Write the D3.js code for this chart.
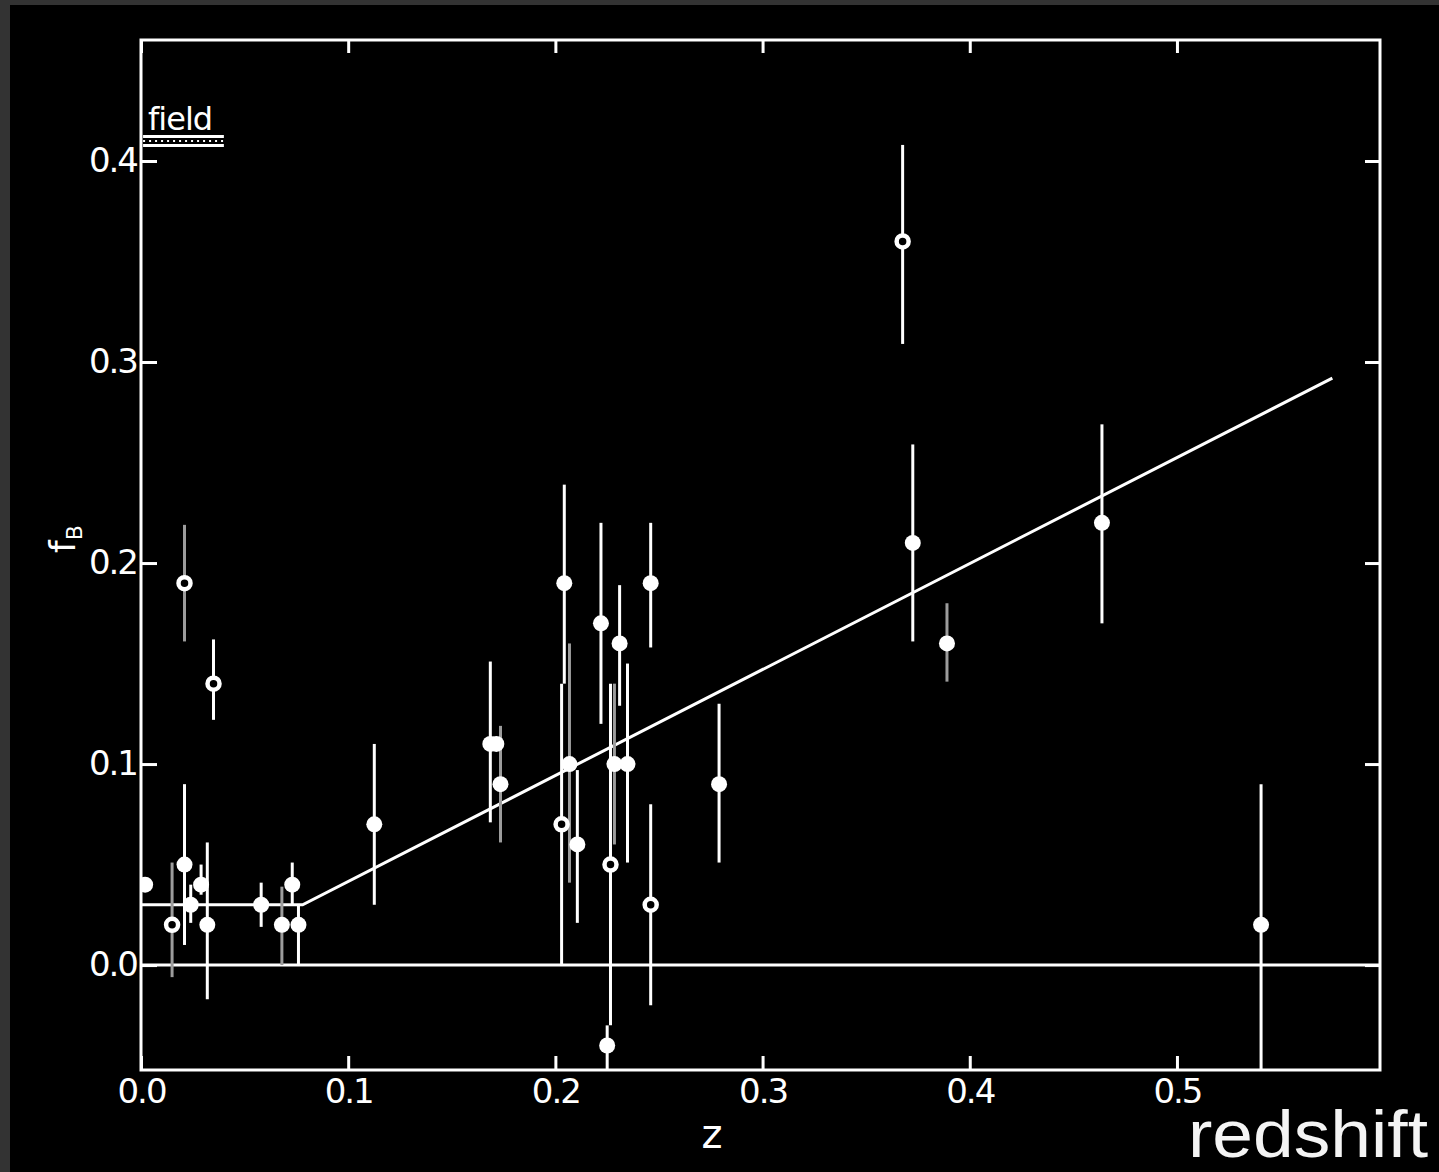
<!DOCTYPE html>
<html>
<head>
<meta charset="utf-8">
<script src="https://cdn.jsdelivr.net/npm/d3@7"></script>
<style>
  html, body { margin: 0; padding: 0; background: #000; }
  svg { display: block; }
</style>
</head>
<body>
<svg id="chart" width="1439" height="1172"></svg>
<script>
// Blue (B) fraction of cluster galaxies versus redshift.
const clusterZ   = [0.002, 0.015, 0.021, 0.024, 0.029, 0.032, 0.021, 0.035, 0.058, 0.068, 0.073, 0.076,
                    0.1126, 0.1686, 0.1715, 0.1735, 0.2043, 0.2030, 0.2068, 0.2106, 0.2220, 0.2266, 0.2250,
                    0.2285, 0.2310, 0.2348, 0.2460, 0.2460, 0.2790, 0.3676, 0.3725, 0.3890, 0.4638, 0.5406];
const blueFrac   = [0.04, 0.02, 0.05, 0.03, 0.04, 0.02, 0.19, 0.14, 0.03, 0.02, 0.04, 0.02,
                    0.07, 0.11, 0.11, 0.09, 0.19, 0.07, 0.10, 0.06, 0.17, 0.05, -0.04,
                    0.10, 0.16, 0.10, 0.19, 0.03, 0.09, 0.36, 0.21, 0.16, 0.22, 0.02];
const fracLower  = [0.04, -0.006, 0.01, 0.021, 0.035, -0.017, 0.161, 0.122, 0.019, 0.0, 0.03, 0.0,
                    0.03, 0.071, 0.11, 0.061, 0.14, 0.0, 0.041, 0.021, 0.12, -0.03, -0.07,
                    0.06, 0.129, 0.051, 0.158, -0.02, 0.051, 0.309, 0.161, 0.141, 0.17, -0.07];
const fracUpper  = [0.04, 0.051, 0.09, 0.04, 0.05, 0.061, 0.219, 0.162, 0.041, 0.039, 0.051, 0.03,
                    0.11, 0.151, 0.11, 0.119, 0.239, 0.14, 0.16, 0.097, 0.22, 0.14, -0.03,
                    0.14, 0.189, 0.15, 0.22, 0.08, 0.13, 0.408, 0.259, 0.18, 0.269, 0.09];
// "open" = open-circle sample, "filled" = filled-circle sample
const markerKind = ["filled", "open", "filled", "filled", "filled", "filled", "open", "open", "filled", "filled", "filled", "filled",
                    "filled", "filled", "filled", "filled", "filled", "open", "filled", "filled", "filled", "open", "filled",
                    "filled", "filled", "filled", "filled", "open", "filled", "open", "filled", "filled", "filled", "filled"];
// source of the error estimate: "A" drawn bright, "B" drawn dim
const errorSource = ["A", "B", "A", "A", "A", "A", "B", "A", "A", "B", "A", "A",
                     "A", "A", "A", "B", "A", "A", "B", "A", "A", "A", "A",
                     "B", "A", "A", "A", "A", "A", "A", "A", "B", "A", "A"];

// Fitted trend: flat at low redshift, then rising
const trendZ = [0.0, 0.078, 0.575];
const trendF = [0.03, 0.03, 0.292];

// Field reference value
const fieldLabel = "field";
const fieldZ = [0.001, 0.04];
const fieldF = 0.41;

const xTickValues = [0.0, 0.1, 0.2, 0.3, 0.4, 0.5];
const xTickLabels = ["0.0", "0.1", "0.2", "0.3", "0.4", "0.5"];
const yTickValues = [0.0, 0.1, 0.2, 0.3, 0.4];
const yTickLabels = ["0.0", "0.1", "0.2", "0.3", "0.4"];

const points = clusterZ.map((z, i) => ({
  z, f: blueFrac[i], lo: fracLower[i], hi: fracUpper[i], kind: markerKind[i], src: errorSource[i]
}));

const svg = d3.select("#chart");
const W = 1439, H = 1172;
const plot = { left: 141, right: 1380, top: 40, bottom: 1070 };

// page frame strips
svg.append("rect").attr("x", 0).attr("y", 0).attr("width", W).attr("height", H).attr("fill", "#000");
svg.append("rect").attr("x", 0).attr("y", 0).attr("width", W).attr("height", 5).attr("fill", "#333");
svg.append("rect").attr("x", 0).attr("y", 0).attr("width", 10).attr("height", H).attr("fill", "#333");

const x = d3.scaleLinear().domain([0, 0.598]).range([plot.left, plot.right]);
const y = d3.scaleLinear().domain([-0.0522, 0.4602]).range([plot.bottom, plot.top]);

const tickFont = "'DejaVu Sans', sans-serif";

svg.append("clipPath").attr("id", "plotClip")
  .append("rect")
  .attr("x", plot.left).attr("y", plot.top)
  .attr("width", plot.right - plot.left).attr("height", plot.bottom - plot.top);

// axes
function styleAxis(g) {
  g.select(".domain").remove();
  g.selectAll(".tick line").attr("stroke", "#fff").attr("stroke-width", 3);
  g.selectAll(".tick text")
    .attr("fill", "#fff")
    .style("font-family", tickFont)
    .style("font-size", "34px")
    .style("letter-spacing", "-2px");
}

svg.append("g")
  .attr("transform", `translate(0,${plot.bottom})`)
  .call(d3.axisBottom(x).tickValues(xTickValues).tickSize(-14).tickPadding(9)
    .tickFormat((d, i) => xTickLabels[i]))
  .call(styleAxis);

svg.append("g")
  .attr("transform", `translate(0,${plot.top})`)
  .call(d3.axisTop(x).tickValues(xTickValues).tickSize(-13).tickFormat(""))
  .call(styleAxis);

svg.append("g")
  .attr("transform", `translate(${plot.left},0)`)
  .call(d3.axisLeft(y).tickValues(yTickValues).tickSize(-16).tickPadding(4)
    .tickFormat((d, i) => yTickLabels[i]))
  .call(styleAxis);

svg.append("g")
  .attr("transform", `translate(${plot.right},0)`)
  .call(d3.axisRight(y).tickValues(yTickValues).tickSize(-15).tickFormat(""))
  .call(styleAxis);

// plot frame
svg.append("rect")
  .attr("x", plot.left).attr("y", plot.top)
  .attr("width", plot.right - plot.left).attr("height", plot.bottom - plot.top)
  .attr("fill", "none").attr("stroke", "#fff").attr("stroke-width", 3);

const body = svg.append("g").attr("clip-path", "url(#plotClip)");

// zero line
body.append("line")
  .attr("x1", x(0)).attr("x2", plot.right)
  .attr("y1", y(0)).attr("y2", y(0))
  .attr("stroke", "#fff").attr("stroke-width", 3);

// trend line
body.append("path")
  .datum(trendZ.map((z, i) => [z, trendF[i]]))
  .attr("d", d3.line().x(d => x(d[0])).y(d => y(d[1])))
  .attr("fill", "none").attr("stroke", "#fff").attr("stroke-width", 3);

// error bars
body.selectAll("line.err")
  .data(points.filter(d => d.hi > d.lo))
  .join("line")
  .attr("class", "err")
  .attr("x1", d => x(d.z)).attr("x2", d => x(d.z))
  .attr("y1", d => y(d.hi)).attr("y2", d => y(d.lo))
  .attr("stroke", d => d.src === "B" ? "#9c9c9c" : "#fff")
  .attr("stroke-width", 3);

// filled markers
body.selectAll("circle.filled")
  .data(points.filter(d => d.kind === "filled"))
  .join("circle")
  .attr("class", "filled")
  .attr("cx", d => x(d.z)).attr("cy", d => y(d.f))
  .attr("r", 8)
  .attr("fill", "#fff");

// open markers
body.selectAll("circle.open")
  .data(points.filter(d => d.kind === "open"))
  .join("circle")
  .attr("class", "open")
  .attr("cx", d => x(d.z)).attr("cy", d => y(d.f))
  .attr("r", 6)
  .attr("fill", "#000")
  .attr("stroke", "#fff")
  .attr("stroke-width", 4.5);

// field legend
svg.append("text")
  .attr("x", x(fieldZ[0]) + 5).attr("y", y(fieldF) - 11)
  .attr("fill", "#fff")
  .style("font-family", tickFont)
  .style("font-size", "32px")
  .style("letter-spacing", "-1px")
  .text(fieldLabel);
[-4.5, 4.5].forEach(off => {
  svg.append("line")
    .attr("x1", x(fieldZ[0])).attr("x2", x(fieldZ[1]))
    .attr("y1", y(fieldF) + off).attr("y2", y(fieldF) + off)
    .attr("stroke", "#fff").attr("stroke-width", 3);
});
svg.append("line")
  .attr("x1", x(fieldZ[0])).attr("x2", x(fieldZ[1]))
  .attr("y1", y(fieldF)).attr("y2", y(fieldF))
  .attr("stroke", "#fff").attr("stroke-width", 2)
  .attr("stroke-dasharray", "2,4");

// axis titles
svg.append("text")
  .attr("x", 712).attr("y", 1148)
  .attr("text-anchor", "middle")
  .attr("fill", "#fff")
  .style("font-family", tickFont)
  .style("font-size", "40px")
  .text("z");

const yTitle = svg.append("text")
  .attr("transform", "translate(75,553) rotate(-90)")
  .attr("fill", "#fff")
  .style("font-family", tickFont)
  .style("font-size", "36px");
yTitle.append("tspan").text("f");
yTitle.append("tspan").attr("dy", 7).style("font-size", "22px").text("B");

svg.append("text")
  .attr("x", 1428).attr("y", 1157)
  .attr("text-anchor", "end")
  .attr("textLength", 240)
  .attr("lengthAdjust", "spacingAndGlyphs")
  .attr("fill", "#f4f4f4")
  .style("font-family", "'Liberation Sans', Arial, sans-serif")
  .style("font-size", "66px")
  .text("redshift");
</script>
</body>
</html>
